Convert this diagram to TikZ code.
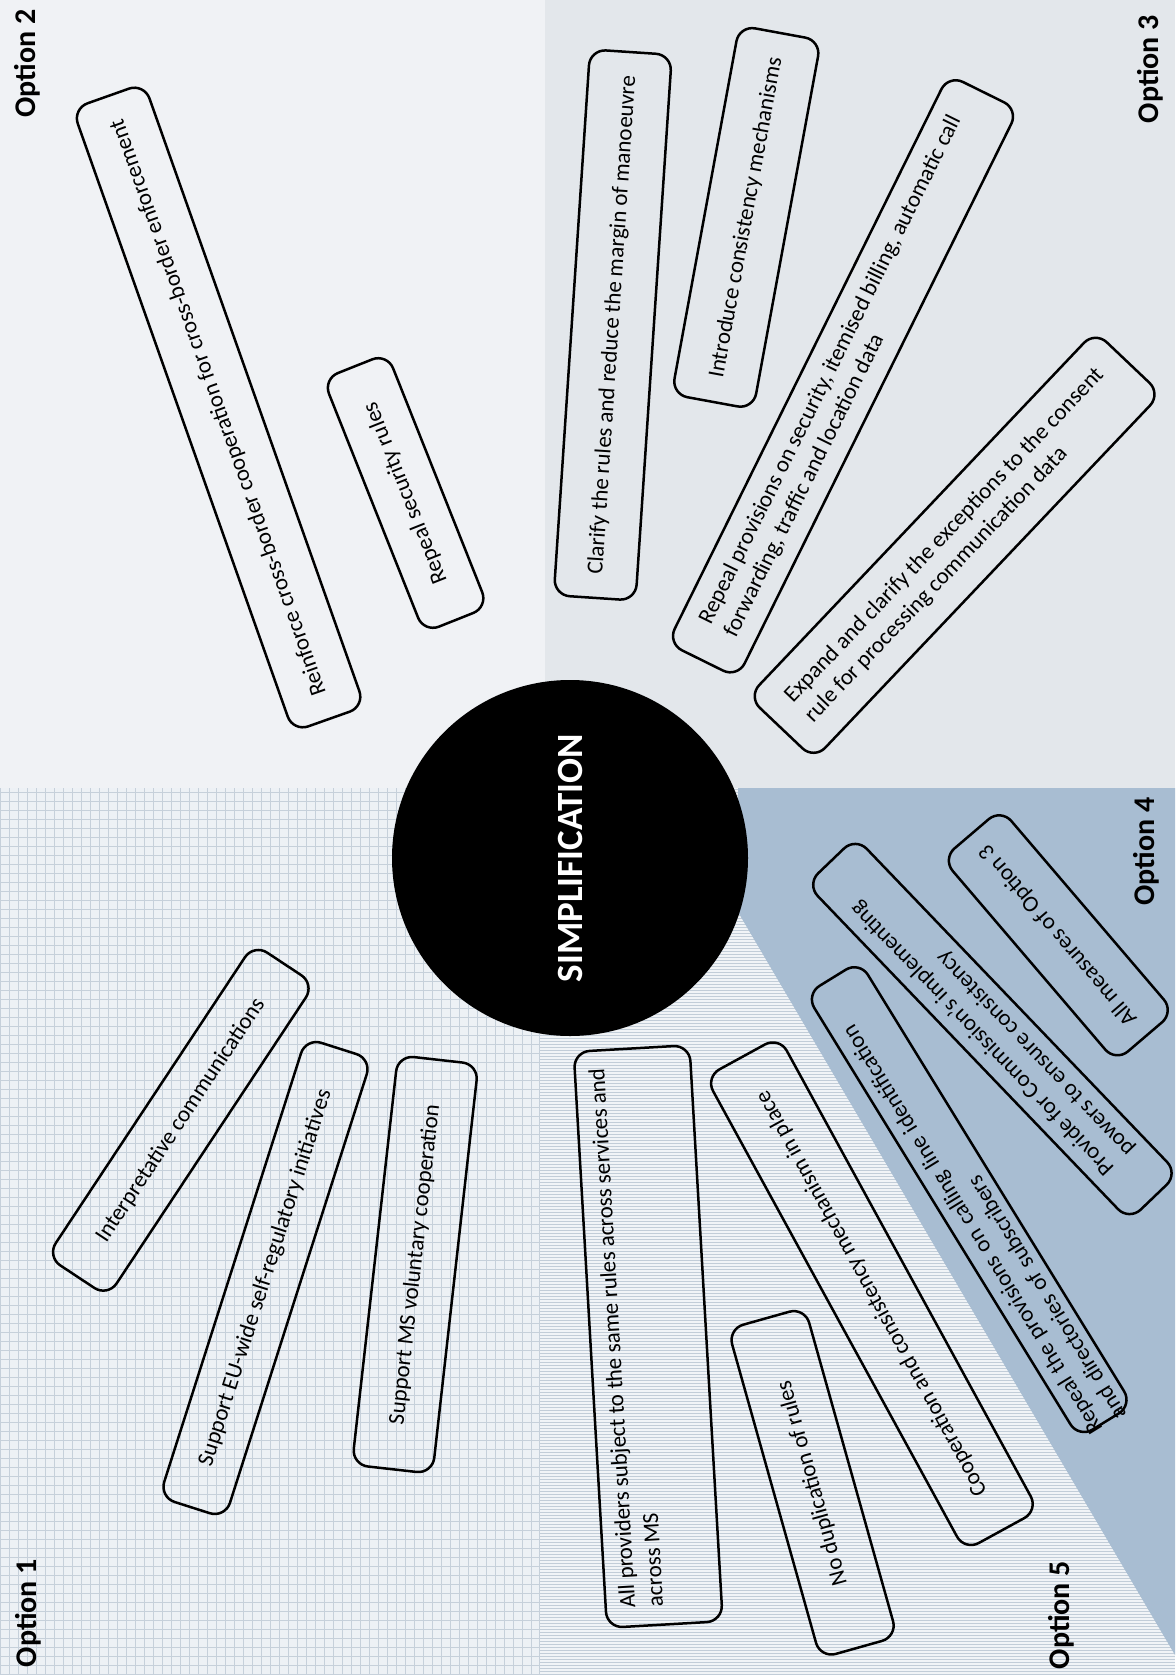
\documentclass[tikz,border=0pt]{standalone}
\usepackage{fontspec}
\setmainfont{Carlito}

\definecolor{optTwo}{HTML}{F0F2F5}
\definecolor{optThree}{HTML}{E3E7EB}
\definecolor{optOne}{HTML}{EDF1F5}
\definecolor{optOneLine}{HTML}{C6D0DA}
\definecolor{optFive}{HTML}{F1F4F7}
\definecolor{optFiveLine}{HTML}{C2CDD8}
\definecolor{optFour}{HTML}{A8BDD2}

\tikzset{
  optbox/.style={draw, line width=2.5pt, rounded corners=16pt, align=left,
    inner xsep=8pt, inner ysep=4pt, font=\fontsize{23}{28}\selectfont},
  optlabel/.style={rotate=90, inner sep=0pt, font=\fontsize{30}{36}\selectfont\bfseries},
}

\begin{document}
\begin{tikzpicture}[x=1pt, y=-1pt]
\useasboundingbox (0,0) rectangle (1175,1675);

% background areas of the five options
\fill[optTwo] (0,0) rectangle (545,788);
\fill[optThree] (545,0) rectangle (1175,788);
\fill[optOne] (0,788) rectangle (540,1675);
\draw[optOneLine, line width=1pt, step=9pt] (0,788) grid (540,1675);
\fill[optFive] (540,788) rectangle (1175,1675);
\draw[optFiveLine, line width=1pt, xstep=2000pt, ystep=3pt] (540,788) grid (1175,1675);
\fill[optFour] (738,788) -- (1175,788) -- (1175,1655) -- (738,912) -- cycle;

% option 2
\node[optbox, rotate=109.5, minimum width=661pt, minimum height=76pt] (reinforce) at (218.6,407.5) {Reinforce cross-border cooperation for cross-border enforcement};
\node[optbox, rotate=111.7, minimum width=273pt, minimum height=69pt] (repealsec) at (405.6,493) {Repeal security rules};

% option 3
\node[optbox, rotate=86.2, minimum width=547pt, minimum height=82pt] (clarify) at (612.8,325) {Clarify the rules and reduce the margin of manoeuvre};
\node[optbox, rotate=79.6, minimum width=375pt, minimum height=83pt] (introduce) at (746.3,217.4) {Introduce consistency mechanisms};
\node[optbox, rotate=63.7, minimum width=634pt, minimum height=78pt] (repealprov) at (843,376.3) {Repeal provisions on security, itemised billing, automatic call\\forwarding, traffic and location data};
\node[optbox, rotate=46.5, minimum width=504pt, minimum height=91pt] (expand) at (954.6,545.3) {Expand and clarify the exceptions to the consent\\rule for processing communication data};

% option 1
\node[optbox, rotate=56.5, minimum width=375pt, minimum height=73pt] (interpret) at (180.8,1120.3) {Interpretative communications};
\node[optbox, rotate=72.3, minimum width=482pt, minimum height=69pt] (supporteu) at (265.5,1278) {Support EU-wide self-regulatory initiatives};
\node[optbox, rotate=83.6, minimum width=412pt, minimum height=81pt] (supportms) at (415.2,1264.5) {Support MS voluntary cooperation};

% option 5
\node[optbox, rotate=93.3, minimum width=577pt, minimum height=116pt, text depth=45pt] (allprov) at (648.2,1336.5) {All providers subject to the same rules across services and\\across MS};
\node[optbox, rotate=105.7, minimum width=342pt, minimum height=80pt] (nodupl) at (812.6,1482.8) {No duplication of rules};
\node[optbox, rotate=118.7, minimum width=540pt, minimum height=84pt] (cooper) at (871.9,1293.7) {Cooperation and consistency mechanism in place};

% option 4
\node[optbox, rotate=130.5, minimum width=267pt, minimum height=77pt] (allmeas) at (1058.3,935.3) {All measures of Option 3};
\node[optbox, rotate=133.8, minimum width=466pt, minimum height=68pt] (provide) at (992.4,1029) {Provide for Commission’s implementing\\powers to ensure consistency};
\node[optbox, rotate=121.6, text width=531pt, inner xsep=-5pt, minimum height=63pt] (repealcli) at (969.2,1199.6) {Repeal the provisions on calling line identification\\and directories of subscribers};

% centre
\node[circle, fill=black, rotate=90, minimum size=356pt, text=white, font=\fontsize{37}{44}\selectfont\bfseries] (hub) at (570,858) {SIMPLIFICATION};

% option labels
\node[optlabel] (opt2) at (27,63.5) {Option 2};
\node[optlabel] (opt3) at (1150,69) {Option 3};
\node[optlabel] (opt1) at (28.5,1613) {Option 1};
\node[optlabel] (opt4) at (1146.7,851.7) {Option 4};
\node[optlabel] (opt5) at (1061.7,1615) {Option 5};
\end{tikzpicture}
\end{document}
